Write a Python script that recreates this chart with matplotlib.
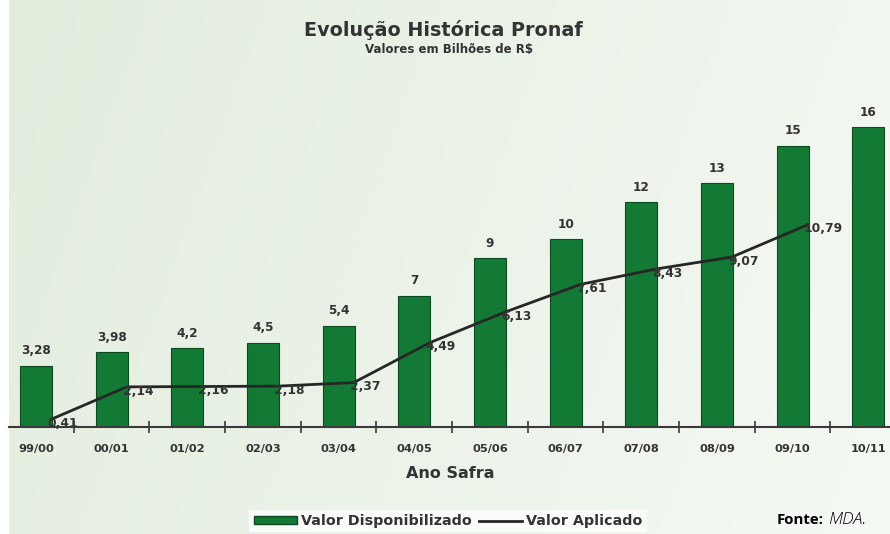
import numpy as np
import matplotlib
matplotlib.use("Agg")
import matplotlib.pyplot as plt
from matplotlib.ticker import FixedLocator
from matplotlib.patches import Patch
from matplotlib.lines import Line2D

categories = ["99/00", "00/01", "01/02", "02/03", "03/04", "04/05",
              "05/06", "06/07", "07/08", "08/09", "09/10", "10/11"]
disponibilizado = [3.28, 3.98, 4.2, 4.5, 5.4, 7, 9, 10, 12, 13, 15, 16]
disp_labels = ["3,28", "3,98", "4,2", "4,5", "5,4", "7", "9", "10", "12", "13", "15", "16"]
aplicado = [0.41, 2.14, 2.16, 2.18, 2.37, 4.49, 6.13, 7.61, 8.43, 9.07, 10.79]
apl_labels = ["0,41", "2,14", "2,16", "2,18", "2,37", "4,49", "6,13", "7,61", "8,43", "9,07", "10,79"]

W, H = 890, 534
fig = plt.figure(figsize=(W / 100, H / 100), dpi=100)
fig.patch.set_facecolor("white")

# background gradient
bg = fig.add_axes([9 / W, 0, (W - 9) / W, 1])
ny, nx = 100, 200
xx = np.linspace(0, 1, nx)[None, :]
yy = np.linspace(0, 1, ny)[:, None]
c_left = np.array([0.88, 0.925, 0.86])
c_right = np.array([0.965, 0.978, 0.96])
t = np.clip(0.7 * xx + 0.1 + 0.15 * yy, 0, 1)
img = c_left[None, None, :] * (1 - t[..., None]) + c_right[None, None, :] * t[..., None]
bg.imshow(img, aspect="auto", extent=[0, 1, 0, 1], origin="upper")
bg.set_axis_off()

fam = ["DejaVu Sans"]
txtc = "#333333"

ax = fig.add_axes([9.5 / W, 107 / H, (891 - 9.5) / W, 17.5 * 18.75 / H])
ax.patch.set_alpha(0)
x = np.arange(len(categories))
ax.bar(x, disponibilizado, width=0.42, color="#127a35", edgecolor="#0a4a1e", linewidth=0.8, zorder=2)
xl = x[:len(aplicado)] + 0.2
ax.plot(xl, aplicado, color="#262626", linewidth=2, zorder=3)

for xi, v, s in zip(x, disponibilizado, disp_labels):
    ax.annotate(s, (xi, v), xytext=(0, 6), textcoords="offset points", ha="center", va="bottom",
                fontsize=8.7, fontweight="bold", color=txtc, family=fam, clip_on=False)
for xi, v, s in zip(xl, aplicado, apl_labels):
    ax.annotate(s, (xi, v), xytext=(-3, -3), textcoords="offset points", ha="left", va="center",
                fontsize=8.8, fontweight="bold", color=txtc, family=fam, zorder=4)

ax.set_xlim(-0.35, 11.3)
ax.set_ylim(0, 17.5)
for s in ["top", "right", "left"]:
    ax.spines[s].set_visible(False)
ax.spines["bottom"].set_color("#3a3a3a")
ax.spines["bottom"].set_linewidth(1.5)
ax.set_yticks([])
ax.set_xticks(x)
ax.set_xticklabels(categories, fontsize=8.2, fontweight="bold", color=txtc, family=fam)
ax.tick_params(axis="x", which="major", length=0, pad=12)
ax.xaxis.set_minor_locator(FixedLocator(np.arange(0.5, 11, 1)))
ax.tick_params(axis="x", which="minor", direction="inout", length=9, width=1.2, color="#3a3a3a")
ax.set_xlabel("Ano Safra", fontsize=11.5, fontweight="bold", color=txtc, family=fam, labelpad=9)

fig.text(443 / W, 1 - 30 / H, "Evolução Histórica Pronaf", ha="center", va="center",
         fontsize=13.8, fontweight="bold", color=txtc, family=fam)
fig.text(449 / W, 1 - 50 / H, "Valores em Bilhões de R\\$", ha="center", va="center",
         fontsize=8.5, fontweight="bold", color=txtc, family=fam)

handles = [Patch(facecolor="#127a35", edgecolor="#0a4a1e"),
           Line2D([], [], color="#262626", linewidth=2)]
leg = fig.legend(handles, ["Valor Disponibilizado", "Valor Aplicado"], loc="center",
                 bbox_to_anchor=(448 / W, 1 - 521 / H), ncol=2, frameon=True, fancybox=False,
                 prop={"family": fam, "weight": "bold", "size": 10.3}, handlelength=3.0,
                 handleheight=0.45, handletextpad=0.3, columnspacing=0.5, borderpad=0.3)
leg.get_frame().set_facecolor("white")
leg.get_frame().set_alpha(0.75)
leg.get_frame().set_edgecolor("none")
for t_ in leg.get_texts():
    t_.set_color(txtc)

fig.text(777 / W, 1 - 520 / H, "Fonte:", ha="left", va="center", fontsize=10.8,
         fontweight="bold", color="black", family=["Open Sans", "DejaVu Sans"])
fig.text(828 / W, 1 - 520 / H, "MDA.", ha="left", va="center", fontsize=12.5,
         style="italic", fontweight="light", color="black", family=["Open Sans", "DejaVu Sans"])

fig.savefig("out.png", dpi=100)
